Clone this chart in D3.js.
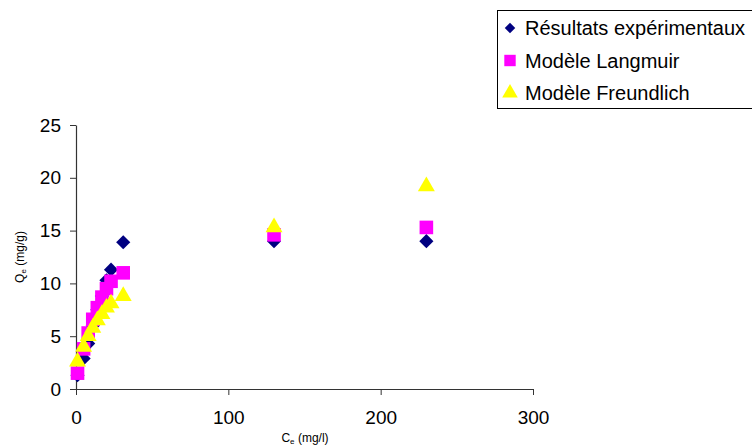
<!DOCTYPE html>
<html><head><meta charset="utf-8">
<script src="https://cdn.jsdelivr.net/npm/d3@7"></script>
<style>body{margin:0;background:#fff}svg{display:block;font-family:"Liberation Sans",Arial,sans-serif}</style>
</head><body>
<svg id="c" width="752" height="448"></svg>
<script>
const ce        = [1, 5, 8, 11, 14, 17, 20, 23, 31, 130, 230];
const exper     = [1.3, 2.9, 4.3, 6.0, 7.5, 8.8, 10.3, 11.3, 13.9, 14.0, 14.0];
const langmuir  = [1.5, 3.8, 5.3, 6.6, 7.7, 8.7, 9.5, 10.2, 11.0, 14.6, 15.3];
const freund    = [2.6, 4.0, 5.0, 5.8, 6.5, 7.1, 7.7, 8.1, 8.8, 15.3, 19.2];
const xTicks = [0, 100, 200, 300];
const yTicks = [0, 5, 10, 15, 20, 25];
const seriesNames = ["Résultats expérimentaux", "Modèle Langmuir", "Modèle Freundlich"];

const svg = d3.select("#c");
const x = d3.scaleLinear().domain([0, 300]).range([76, 533]);
const y = d3.scaleLinear().domain([0, 25]).range([389, 125]);

const xAxis = svg.append("g").attr("transform", "translate(0,389)")
  .call(d3.axisBottom(x).tickValues(xTicks).tickSize(6).tickSizeOuter(0).tickPadding(16));
const yAxis = svg.append("g").attr("transform", "translate(76,0)")
  .call(d3.axisLeft(y).tickValues(yTicks).tickSize(6).tickSizeOuter(0).tickPadding(9));
[xAxis, yAxis].forEach(a => {
  a.selectAll("path").attr("stroke", "#333").attr("stroke-width", 1.2);
  a.selectAll("line").attr("stroke", "#333");
  a.selectAll("text").attr("font-size", 19).attr("fill", "#000").attr("font-family", "Liberation Sans, Arial, sans-serif");
});

// axis titles
const xt = svg.append("text").attr("x", 305).attr("y", 442).attr("text-anchor", "middle").attr("font-size", 12);
xt.append("tspan").text("C");
xt.append("tspan").attr("font-size", 8).attr("dy", 2).text("e");
xt.append("tspan").attr("dy", -2).text(" (mg/l)");
const yt = svg.append("text").attr("transform", "translate(24,257) rotate(-90)").attr("text-anchor", "middle").attr("font-size", 12);
yt.append("tspan").text("Q");
yt.append("tspan").attr("font-size", 8).attr("dy", 2).text("e");
yt.append("tspan").attr("dy", -2).text(" (mg/g)");

const colors = ["#000080", "#FF00FF", "#FFFF00"];
const symbols = [d3.symbolSquare, d3.symbolSquare, d3.symbolTriangle];
const rot = [" rotate(45)", "", ""];
const sizes = [100, 185, 125];
const data = [exper, langmuir, freund];
[0, 1, 2].forEach(i => {
  const sym = d3.symbol().type(symbols[i]).size(sizes[i]);
  svg.append("g").selectAll("path").data(ce.map((c, k) => [c, data[i][k]]))
    .join("path")
    .attr("d", sym)
    .attr("transform", d => `translate(${x(d[0])},${y(d[1])})` + rot[i])
    .attr("fill", colors[i]);
});

// legend
const lg = svg.append("g");
lg.append("rect").attr("x", 497.5).attr("y", 10.5).attr("width", 260).attr("height", 98)
  .attr("fill", "#fff").attr("stroke", "#000").attr("stroke-width", 1);
const legSizes = [55, 130, 105];
seriesNames.forEach((n, i) => {
  const cy = 28 + i * 32.5;
  lg.append("path").attr("d", d3.symbol().type(symbols[i]).size(legSizes[i])())
    .attr("transform", `translate(510,${cy})` + rot[i])
    .attr("fill", colors[i]);
  lg.append("text").attr("x", 525).attr("y", cy + 7).attr("font-size", 20).text(n);
});
</script>
</body></html>
